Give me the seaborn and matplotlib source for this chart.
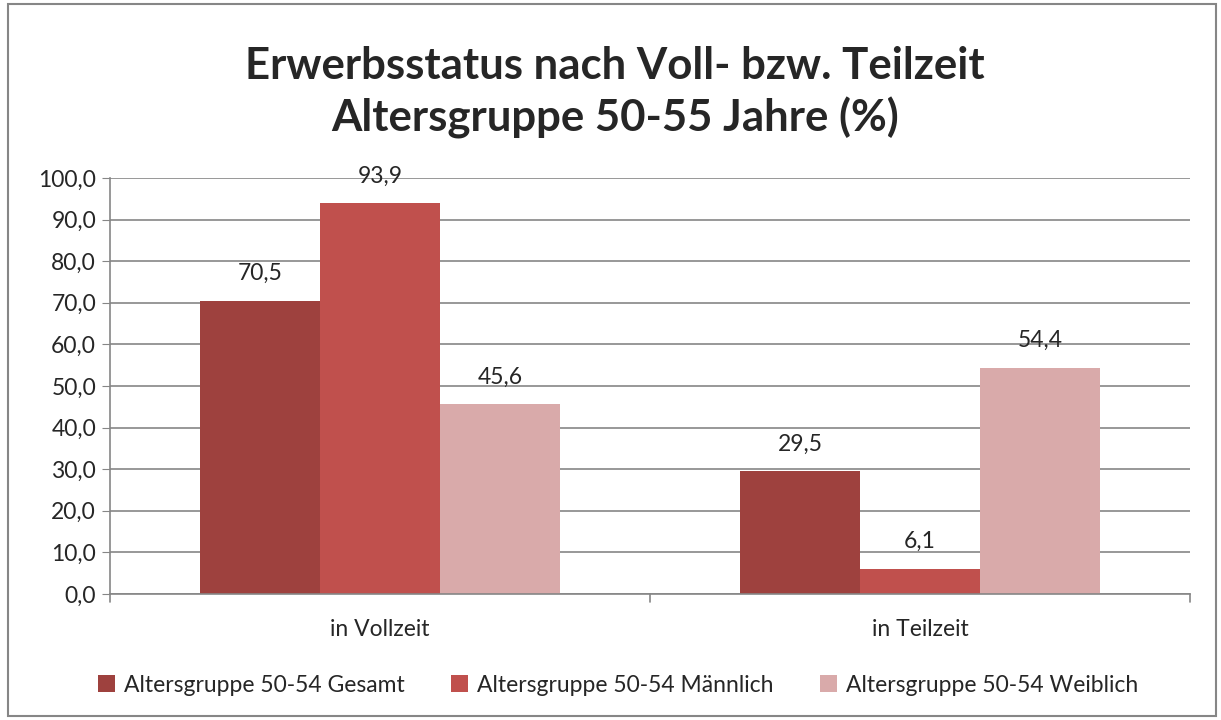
import numpy as np
import pandas as pd
import seaborn as sns
import matplotlib.pyplot as plt
from matplotlib.patches import Rectangle


categories = ["in Vollzeit", "in Teilzeit"]
series = ["Altersgruppe 50-54 Gesamt", "Altersgruppe 50-54 Männlich", "Altersgruppe 50-54 Weiblich"]
gesamt = [70.5, 29.5]
maennlich = [93.9, 6.1]
weiblich = [45.6, 54.4]
colors = ["#9E413E", "#C0504D", "#D9AAAA"]

df = pd.DataFrame({
    "cat": categories * 3,
    "series": [s for s in series for _ in categories],
    "val": gesamt + maennlich + weiblich,
})

sns.set_style("white")
plt.rcParams["font.family"] = ["Lato", "DejaVu Sans"]

fig = plt.figure(figsize=(12.21, 7.2), dpi=100)
ax = fig.add_axes([110/1221, 1-594/720, 1080/1221, 416/720])

sns.barplot(data=df, x="cat", y="val", hue="series", palette=colors,
            width=0.667, gap=0, ax=ax, saturation=1, legend=True, linewidth=0)

for cont in ax.containers:
    for bar in cont:
        h = bar.get_height()
        ax.annotate(f"{h:.1f}".replace(".", ","), (bar.get_x() + bar.get_width()/2, h),
                    xytext=(0, 12), textcoords="offset points", ha="center", va="bottom",
                    fontsize=16.5)

ax.set_ylim(0, 100)
ax.set_xlim(-0.5, 1.5)
ax.set_yticks(np.arange(0, 101, 10))
ax.set_yticklabels([f"{v:.1f}".replace(".", ",") for v in np.arange(0, 101, 10)], fontsize=16.5)
ax.set_xlabel("")
ax.set_ylabel("")
ax.tick_params(axis="x", labelsize=16.5, length=0, pad=18)
ax.tick_params(axis="y", length=6, color="#868686", left=True, pad=4)
ax.yaxis.grid(True, color="#868686", linewidth=1.2)
ax.set_axisbelow(True)
for s in ["top", "right"]:
    ax.spines[s].set_visible(False)
for s in ["left", "bottom"]:
    ax.spines[s].set_color("#868686")
    ax.spines[s].set_linewidth(1.2)
# category separators on the x axis
for xb in [-0.5, 0.5, 1.5]:
    ax.plot([xb, xb], [0, -2], color="#868686", lw=1.2, clip_on=False)

fig.text(615/1221, 1-66/720, "Erwerbsstatus nach Voll- bzw. Teilzeit",
         ha="center", va="center", fontsize=31.5, fontweight="bold")
fig.text(615/1221, 1-118/720, "Altersgruppe 50-55 Jahre (%)",
         ha="center", va="center", fontsize=31.5, fontweight="bold")

handles, labels = ax.get_legend_handles_labels()
ax.legend_.remove()
fig.legend(handles, labels, loc="center", bbox_to_anchor=(618/1221, 1-685/720), ncol=3,
           frameon=False, fontsize=16.5, handlelength=0.75, handleheight=0.75,
           handletextpad=0.4, columnspacing=2.0)

fig.patches.append(Rectangle((8/1221, 4/720), 1208/1221, 712/720, transform=fig.transFigure,
                             fill=False, edgecolor="#868686", linewidth=1.5))

fig.savefig("out.png", dpi=100)
